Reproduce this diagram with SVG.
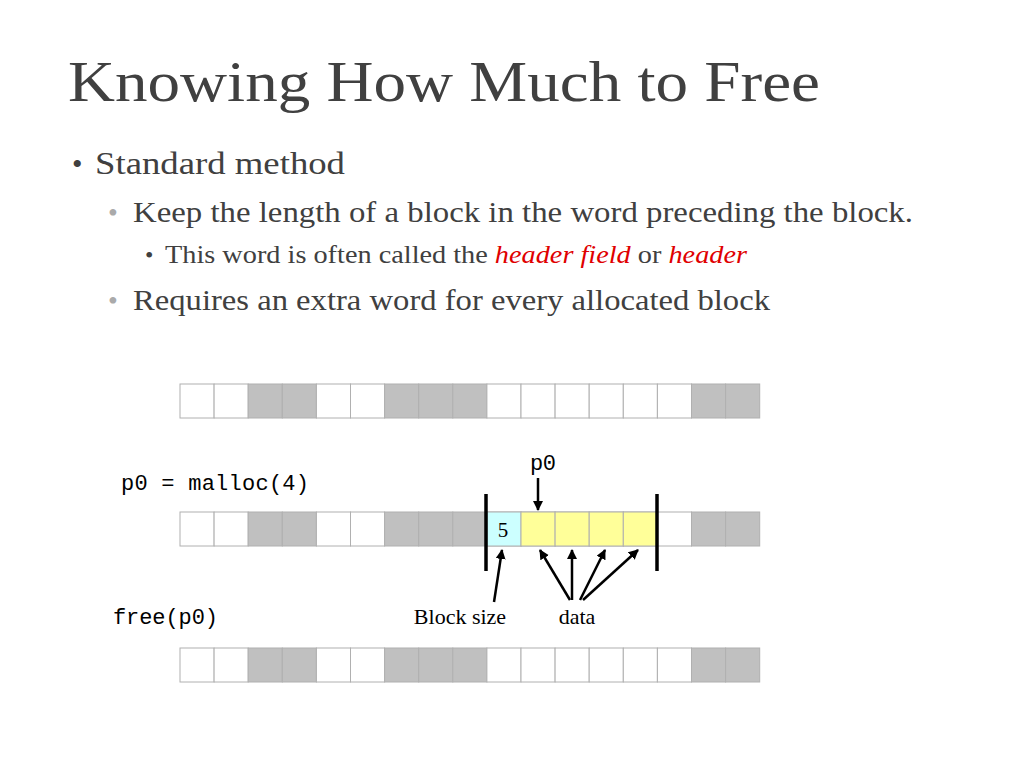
<svg xmlns="http://www.w3.org/2000/svg" width="1024" height="768" viewBox="0 0 1024 768">
<style>
.t{font-family:"Liberation Serif",serif;fill:#404040}
.m{font-family:"Liberation Mono",monospace;font-size:22px;fill:#000}
.c{stroke:#b0b0b0;stroke-width:1;fill:#fff}
.g{fill:#c0c0c0}
.y{fill:#ffff99}
.cy{fill:#ccffff}
.r{fill:#e00000;font-style:italic}
.a{stroke:#000;stroke-width:2.5;fill:none;marker-end:url(#ah)}
</style>
<defs>
<marker id="ah" viewBox="0 0 10 10" refX="9" refY="5" markerWidth="4" markerHeight="4" orient="auto"><path d="M0,0L10,5L0,10z" fill="#000"/></marker>
<g id="cells">
<rect class="c" x="180" width="34.1" height="34"/><rect class="c" x="214.1" width="34.1" height="34"/>
<rect class="c g" x="248.2" width="34.1" height="34"/><rect class="c g" x="282.3" width="34.1" height="34"/>
<rect class="c" x="316.4" width="34.1" height="34"/><rect class="c" x="350.5" width="34.1" height="34"/>
<rect class="c g" x="384.6" width="34.1" height="34"/><rect class="c g" x="418.7" width="34.1" height="34"/><rect class="c g" x="452.8" width="34.1" height="34"/>
<rect class="c" x="486.9" width="34.1" height="34"/><rect class="c" x="521" width="34.1" height="34"/><rect class="c" x="555.1" width="34.1" height="34"/><rect class="c" x="589.2" width="34.1" height="34"/><rect class="c" x="623.3" width="34.1" height="34"/><rect class="c" x="657.4" width="34.1" height="34"/>
<rect class="c g" x="691.5" width="34.1" height="34"/><rect class="c g" x="725.6" width="34.1" height="34"/>
</g>
</defs>
<rect width="1024" height="768" fill="#fff"/>
<text class="t" x="68" y="101" font-size="56" textLength="752" lengthAdjust="spacingAndGlyphs">Knowing How Much to Free</text>
<text class="t" x="72" y="174" font-size="30">•</text>
<text class="t" x="95" y="174" font-size="31" textLength="250" lengthAdjust="spacingAndGlyphs">Standard method</text>
<text class="t" x="108" y="222" font-size="28" fill="#aaa" style="fill:#aaa">•</text>
<text class="t" x="133" y="222" font-size="29" textLength="780" lengthAdjust="spacingAndGlyphs">Keep the length of a block in the word preceding the block.</text>
<text class="t" x="145" y="263" font-size="24">•</text>
<text class="t" x="165" y="263" font-size="25" textLength="582" lengthAdjust="spacingAndGlyphs">This word is often called the <tspan class="r">header field</tspan> or <tspan class="r">header</tspan></text>
<text class="t" x="108" y="310" font-size="28" style="fill:#aaa">•</text>
<text class="t" x="133" y="310" font-size="29" textLength="637" lengthAdjust="spacingAndGlyphs">Requires an extra word for every allocated block</text>
<g id="row1"><use href="#cells" y="384"/></g>
<g id="row2"><use href="#cells" y="512"/>
<rect class="c cy" x="486.9" y="512" width="34.1" height="34" stroke="#888"/>
<rect class="c y" x="521" y="512" width="34.1" height="34" stroke="#888"/><rect class="c y" x="555.1" y="512" width="34.1" height="34" stroke="#888"/><rect class="c y" x="589.2" y="512" width="34.1" height="34" stroke="#888"/><rect class="c y" x="623.3" y="512" width="34.1" height="34" stroke="#888"/>
<text x="503" y="537" font-family="Liberation Serif,serif" font-size="21" text-anchor="middle">5</text>
</g>
<g id="row3"><use href="#cells" y="648"/></g>
<text class="m" x="121" y="490" textLength="188">p0 = malloc(4)</text>
<text class="m" x="530" y="470" textLength="26">p0</text>
<text class="m" x="113" y="624" textLength="105">free(p0)</text>
<text x="460" y="624" font-family="Liberation Serif,serif" font-size="22" text-anchor="middle">Block size</text>
<text x="577" y="624" font-family="Liberation Serif,serif" font-size="22" text-anchor="middle">data</text>
<g id="connectors">
<line x1="486" y1="494" x2="486" y2="571" stroke="#000" stroke-width="3.5"/>
<line x1="657" y1="494" x2="657" y2="571" stroke="#000" stroke-width="3.5"/>
<line class="a" x1="538" y1="478" x2="538" y2="510"/>
<line class="a" x1="494" y1="602" x2="502" y2="550"/>
<line class="a" x1="570" y1="600" x2="540" y2="550" stroke-width="4"/>
<line class="a" x1="572" y1="600" x2="572" y2="550"/>
<line class="a" x1="580" y1="600" x2="605" y2="550"/>
<line class="a" x1="583" y1="600" x2="638" y2="550"/>
</g>
</svg>
